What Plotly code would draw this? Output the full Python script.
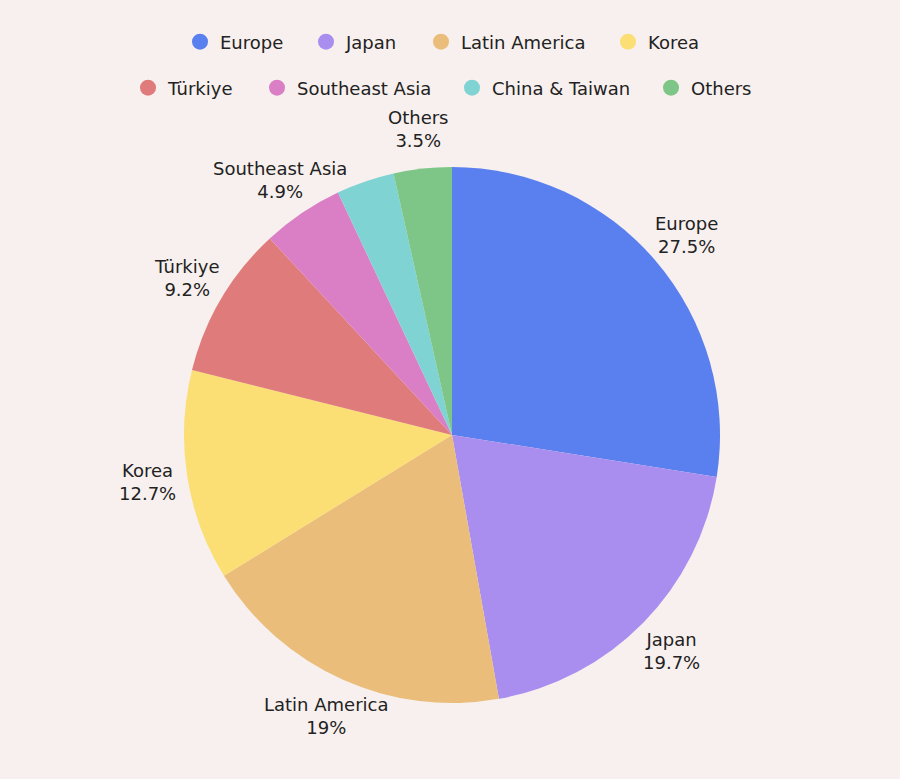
import numpy as np
import plotly.graph_objects as go

labels = ["Europe", "Japan", "Latin America", "Korea", "Türkiye",
          "Southeast Asia", "China & Taiwan", "Others"]
values = [27.5, 19.7, 19, 12.7, 9.2, 4.9, 3.5, 3.5]
show_label = [True, True, True, True, True, True, False, True]
colors = ["#5a7fef", "#a98ef0", "#eabd7a", "#fbde74", "#e07b7c",
          "#da7fc5", "#7fd3d3", "#7dc687"]

BG = "#f8f0ee"
FONT = "DejaVu Sans"
TXT = "#222222"
W, H = 900, 779
CX, CY, R = 452, 435, 268      # pie centre / radius in pixels
LABEL_DIST = 308               # label centre distance from pie centre

fig = go.Figure()
fig.add_trace(go.Pie(
    labels=labels, values=values, textinfo="none",
    sort=False, direction="clockwise", rotation=0,
    marker=dict(colors=colors, line=dict(width=0)),
    showlegend=False, hoverinfo="label+percent",
    domain=dict(x=[(CX - R) / W, (CX + R) / W],
                y=[1 - (CY + R) / H, 1 - (CY - R) / H]),
))

# outside labels, centred on each slice's mid-angle ray
vals = np.array(values, dtype=float)
frac_mid = (np.cumsum(vals) - vals / 2) / vals.sum()
ang = 2 * np.pi * frac_mid
for lab, v, s, a in zip(labels, values, show_label, ang):
    if not s:
        continue
    px = CX + LABEL_DIST * np.sin(a)
    py = CY - LABEL_DIST * np.cos(a)
    fig.add_annotation(
        x=px / W, y=1 - py / H, xref="paper", yref="paper",
        text=f"{lab}<br>{v:g}%", showarrow=False,
        xanchor="center", yanchor="middle", align="center",
        font=dict(family=FONT, size=18, color=TXT),
    )

# legend entries (circle markers), one legend per entry for exact placement
leg_pos = [(200, 42), (326, 42), (441, 42), (628, 42),
           (148, 88), (277, 88), (472, 88), (671, 88)]
layout_legends = {}
for i, (lab, col) in enumerate(zip(labels, colors)):
    lname = "legend" if i == 0 else f"legend{i+1}"
    fig.add_trace(go.Scatter(
        x=[None], y=[None], mode="markers", name=lab,
        marker=dict(color=col, size=16, symbol="circle"),
        showlegend=True, legend=lname, hoverinfo="skip",
    ))
    lx, ly = leg_pos[i]
    layout_legends[lname] = dict(
        orientation="h", xref="paper", yref="paper",
        x=(lx - 20) / W, y=1 - ly / H, xanchor="left", yanchor="middle",
        font=dict(family=FONT, size=18, color=TXT), bgcolor="rgba(0,0,0,0)",
        borderwidth=0,
    )

fig.update_layout(
    width=W, height=H,
    paper_bgcolor=BG, plot_bgcolor=BG,
    margin=dict(l=0, r=0, t=0, b=0, autoexpand=False),
    xaxis=dict(visible=False), yaxis=dict(visible=False),
    font=dict(family=FONT, size=18, color=TXT),
    **layout_legends,
)

fig.write_html(
    "out.html",
    config={"displayModeBar": False},
    post_script="document.body.style.margin='0';document.body.style.overflow='hidden';",
)
